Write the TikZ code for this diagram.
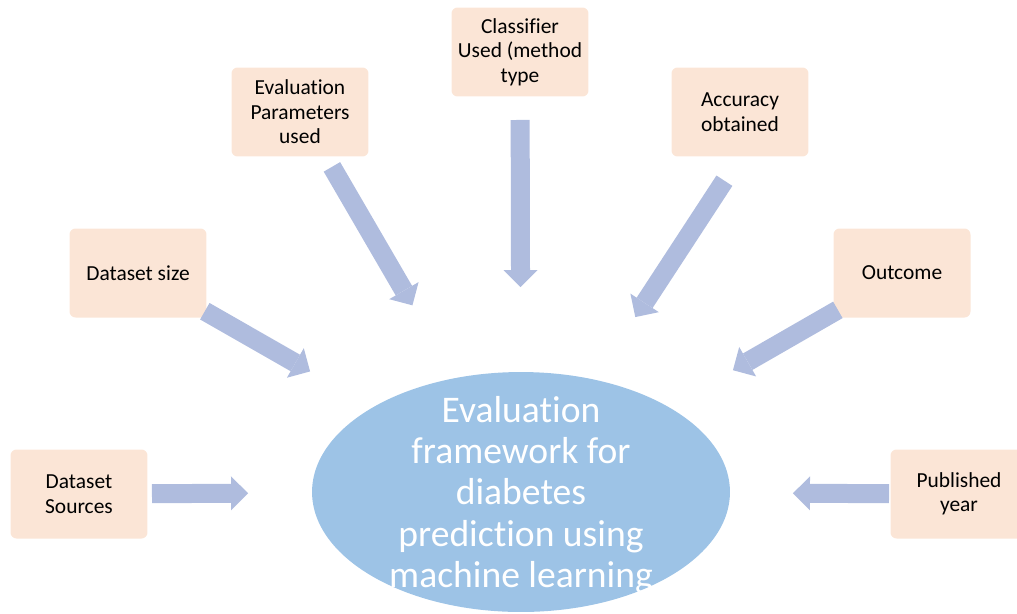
\documentclass[tikz,border=0pt]{standalone}
\usepackage{fontspec}
\setmainfont{Carlito}[Ligatures=NoCommon]
\usetikzlibrary{arrows.meta,shapes.geometric}
\definecolor{peach}{RGB}{251,229,214}
\definecolor{ovalblue}{RGB}{157,195,230}
\definecolor{arrowblue}{RGB}{175,188,222}

\begin{document}
\begin{tikzpicture}[x=0.02cm, y=-0.02cm,
  factor/.style={rounded corners=0.12cm, fill=peach, minimum width=2.74cm, minimum height=1.78cm, inner sep=0pt, align=center, font=\fontsize{12.2}{13.9}\selectfont},
  feed/.style={arrowblue, line width=0.38cm, -{Triangle[width=0.68cm, length=0.34cm, line width=0pt]}}]
\useasboundingbox (0,0) rectangle (1017,613);
% central goal
\node[ellipse, fill=ovalblue, minimum width=8.36cm, minimum height=4.8cm, inner sep=0pt] (eval) at (521,492) {};
\node[white, align=center, font=\fontsize{21.4}{23.5}\selectfont] (evaltext) at (521,495) {Evaluation\\framework for\\diabetes\\prediction using\\machine learning};
% review criteria
\node[factor] (sources) at (79,494) {Dataset\\Sources};
\node[factor] (size) at (138,273) {Dataset size};
\node[factor] (params) at (300,112) {Evaluation\\Parameters\\used};
\node[factor] (classifier) at (520,52) {Classifier\\Used (method\\type};
\node[factor] (accuracy) at (740,112) {Accuracy\\obtained};
\node[factor] (outcome) at (902,273) {Outcome};
\node[factor] (year) at (959,494) {Published\\year};
% block arrows
\draw[feed, shorten <=1.46cm, shorten >=5.46cm] (sources.center) -- (eval.center);
\draw[feed, shorten <=1.54cm, shorten >=4.86cm] (size.center) -- (eval.center);
\draw[feed, shorten <=1.27cm, shorten >=4.32cm] (params.center) -- (eval.center);
\draw[feed, shorten <=1.36cm, shorten >=4.10cm] (classifier.center) -- (eval.center);
\draw[feed, shorten <=0.57cm, shorten >=4.18cm] (accuracy.south) -- (eval.center);
\draw[feed, shorten <=1.48cm, shorten >=4.89cm] (outcome.center) -- (eval.center);
\draw[feed, shorten <=1.40cm, shorten >=5.44cm] (year.center) -- (eval.center);
\end{tikzpicture}
\end{document}
